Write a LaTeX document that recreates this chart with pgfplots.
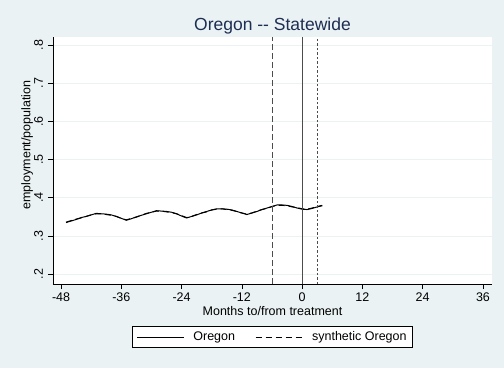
\documentclass[border=0pt]{standalone}
\usepackage{pgfplots}
\pgfplotsset{compat=1.18}
\usepackage{pgfplotstable}
\usepackage{fontspec}
\setmainfont{Liberation Sans}
\definecolor{bgcol}{RGB}{234,242,243}
\definecolor{titlecol}{RGB}{30,45,83}

% month, Oregon, synthetic Oregon
\pgfplotstableread{
m     or     syn
-47 0.335 0.336
-46 0.339 0.340
-45 0.343 0.344
-44 0.348 0.347
-43 0.351 0.351
-42 0.355 0.355
-41 0.359 0.358
-40 0.358 0.358
-39 0.357 0.356
-38 0.355 0.354
-37 0.351 0.351
-36 0.346 0.346
-35 0.341 0.342
-34 0.345 0.346
-33 0.350 0.349
-32 0.354 0.354
-31 0.358 0.359
-30 0.362 0.362
-29 0.366 0.365
-28 0.365 0.365
-27 0.364 0.363
-26 0.362 0.361
-25 0.358 0.358
-24 0.352 0.353
-23 0.347 0.348
-22 0.351 0.351
-21 0.355 0.356
-20 0.360 0.360
-19 0.364 0.363
-18 0.368 0.368
-17 0.371 0.370
-16 0.371 0.371
-15 0.370 0.369
-14 0.368 0.367
-13 0.364 0.364
-12 0.360 0.360
-11 0.356 0.357
-10 0.360 0.360
-9  0.364 0.365
-8  0.369 0.369
-7  0.373 0.372
-6  0.377 0.377
-5  0.381 0.380
-4  0.381 0.380
-3  0.380 0.379
-2  0.377 0.376
-1  0.373 0.374
0   0.370 0.371
1   0.369 0.370
2   0.372 0.373
3   0.376 0.377
4   0.379 0.380
}\datatable

\begin{document}
\begin{tikzpicture}[x=1pt,y=1pt]
\fill[bgcol] (0,0) rectangle (504,368);
\useasboundingbox (0,0) rectangle (504,368);
\begin{axis}[
  at={(53pt,84pt)}, anchor=south west,
  scale only axis, width=439pt, height=247pt,
  xmin=-49.6, xmax=37.8, ymin=0.174, ymax=0.821,
  axis lines*=left,
  axis line style={black, line width=0.8pt, -},
  axis background/.style={fill=white},
  tick align=outside,
  major tick length=5pt,
  every tick/.style={black, line width=0.6pt},
  xtick={-48,-36,-24,-12,0,12,24,36},
  xticklabels={-48,-36,-24,-12,0,12,24,36},
  ytick={0.2,0.3,0.4,0.5,0.6,0.7,0.8},
  yticklabels={.2,.3,.4,.5,.6,.7,.8},
  ymajorgrids,
  grid style={bgcol, line width=0.8pt},
  tick label style={font=\fontsize{12.5}{14}\selectfont},
  yticklabel style={rotate=90, anchor=base, inner sep=0pt, yshift=5pt},
  xticklabel style={anchor=base, inner sep=0pt, yshift=-12.5pt},
  title={Oregon -{}- Statewide},
  every axis title shift=0pt,
  title style={at={(0.5,1)}, anchor=base, yshift=6.5pt,
    font=\fontsize{17.5}{20}\selectfont, text=titlecol},
  xlabel={Months to/from treatment},
  xlabel style={at={(axis description cs:0.5,-0.1275)}, anchor=base,
    font=\fontsize{12.5}{14}\selectfont},
  ylabel={employment/population},
  ylabel style={at={(axis description cs:-0.0513,0.5628)}, anchor=base,
    font=\fontsize{12.5}{14}\selectfont},
  legend style={at={(0.5,-0.2146)}, anchor=center, legend columns=2,
    draw=black, line width=0.6pt, fill=white,
    font=\fontsize{12.5}{14}\selectfont,
    inner xsep=4pt, inner ysep=3.5pt,
    /tikz/every odd column/.append style={column sep=7pt},
    /tikz/every even column/.append style={column sep=18pt}},
  legend image code/.code={\draw[#1] (0pt,0pt) -- (47pt,0pt);},
  clip=false,
]
\addplot[black, line width=1pt] table[x=m, y=or] {\datatable};
\addlegendentry{Oregon}
\addplot[black, line width=1pt, dash pattern=on 6pt off 4pt] table[x=m, y=syn] {\datatable};
\addlegendentry{synthetic Oregon}
% reference lines at the window edges and the treatment month
\addplot[black!70, line width=0.8pt, dash pattern=on 6pt off 3pt, forget plot]
  coordinates {(-6,0.174) (-6,0.821)};
\addplot[black!70, line width=0.8pt, forget plot]
  coordinates {(0,0.174) (0,0.821)};
\addplot[black!70, line width=0.8pt, dash pattern=on 2.5pt off 2pt, forget plot]
  coordinates {(3,0.174) (3,0.821)};
\end{axis}
\end{tikzpicture}
\end{document}
